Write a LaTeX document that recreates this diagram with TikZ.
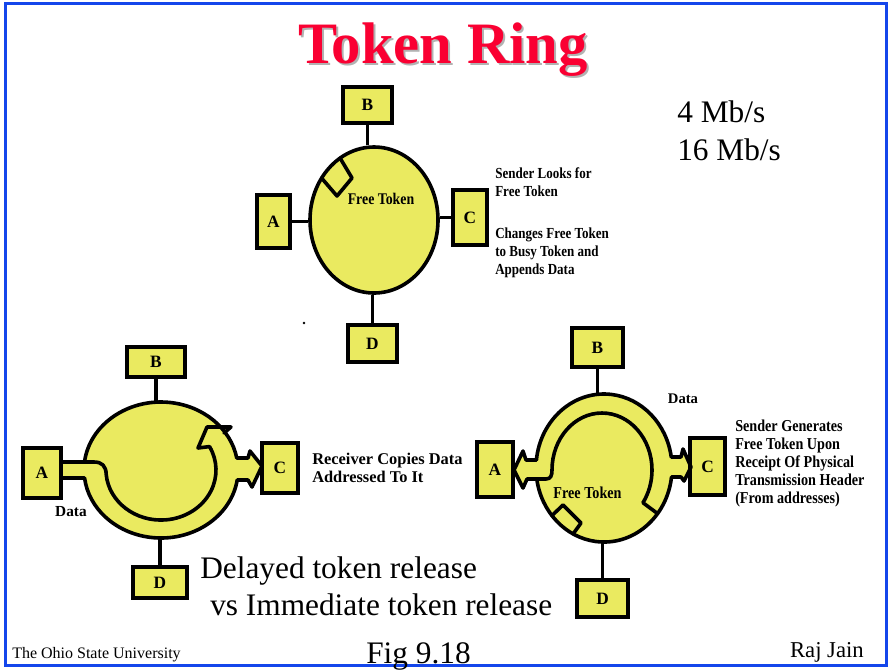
\documentclass[tikz,border=0pt]{standalone}
\usepackage{fontspec}
\setmainfont{Liberation Serif}
\newfontface\notefont{Liberation Serif Bold}[FakeStretch=0.85]
\usetikzlibrary{shapes.geometric}
\definecolor{ringyellow}{RGB}{234,234,96}
\definecolor{slideblue}{RGB}{20,70,235}
\definecolor{titlered}{RGB}{250,0,50}
\begin{document}
\begin{tikzpicture}[x=0.75pt,y=-0.75pt,
  stn/.style={draw=black, fill=ringyellow, line width=2.6pt, inner sep=0pt,
    font=\fontsize{13}{13}\selectfont\bfseries},
  wire/.style={line width=2.3pt},
  ringline/.style={line width=2.7pt, line join=round, line cap=round},
  note/.style={font=\notefont\fontsize{11.5}{13.5}\selectfont, align=left, inner sep=0pt, anchor=north west},
  big/.style={font=\fontsize{23.5}{28}\selectfont, inner sep=0pt, anchor=base west},
]
\useasboundingbox (0,0) rectangle (888,669);
% slide frame
\draw[slideblue, line width=2pt] (5.3,3.7) rectangle (886.7,665.5);
% title (with its light shadow)
\node[font=\fontsize{44}{50}\selectfont\bfseries, text=black!30, anchor=base, inner sep=0pt] (titleshadow) at (445,65) {Token Ring};
\node[font=\fontsize{44}{50}\selectfont\bfseries, text=titlered, anchor=base, inner sep=0pt] (title) at (443,63) {Token Ring};
% speeds
\node[big] (s4) at (677,122) {4 Mb/s};
\node[big] (s16) at (677,160) {16 Mb/s};

% ================= top ring =================
\node[ellipse, draw, fill=ringyellow, line width=2.7pt, minimum width=96pt, minimum height=109.5pt, inner sep=0pt] (ring1) at (374,220) {};
\node[stn, minimum width=36.75pt, minimum height=27pt] (B1) at (367.5,105) {B};
\node[stn, minimum width=24.75pt, minimum height=39.75pt] (A1) at (273.5,221.5) {A};
\node[stn, minimum width=25.5pt, minimum height=41.25pt] (C1) at (470,217.5) {C};
\node[stn, minimum width=36.75pt, minimum height=27.75pt] (D1) at (372.5,343.5) {D};
\draw[wire] (B1.south) -- (B1.south |- ring1.north);
\draw[wire] (A1.east) -- (A1.east -| ring1.west);
\draw[wire] (C1.west) -- (C1.west -| ring1.east);
\draw[wire] (D1.north) -- (D1.north |- ring1.south);
\draw[ringline] (321.6,178.1) -- (337,196) -- (352,178) -- (340.1,158.1);
\node[font=\notefont\fontsize{12.2}{14}\selectfont, inner sep=0pt] (ft1) at (381,199) {Free Token};
\node[note] (n1) at (495,167) {Sender Looks for\\Free Token};
\node[note] (n2) at (495,228) {Changes Free Token\\to Busy Token and\\Appends Data};
\fill (304,323) circle[radius=1.3];

% ================= bottom-left ring (delayed release) =================
\coordinate (r2n) at (161,402);
\coordinate (r2s) at (161,538);
\fill[ringyellow] (161,470) ellipse[x radius=77, y radius=68];
\fill[ringyellow] (60,462) rectangle (100,478);
\fill[ringyellow] (234,458) -- (248,458) -- (250,451) -- (262,466) -- (252,487) -- (248,480) -- (234,480) -- cycle;
\fill[ringyellow] (209.6,446.6) -- (198,448) -- (207,427) -- (231,427) -- (224,433) -- cycle;
\node[stn, minimum width=43.5pt, minimum height=22.5pt] (B2) at (156,362) {B};
\node[stn, minimum width=28.5pt, minimum height=37.5pt] (A2) at (42,473) {A};
\node[stn, minimum width=27pt, minimum height=37.5pt] (C2) at (280,468) {C};
\node[stn, minimum width=40.5pt, minimum height=23.25pt] (D2) at (160,582.5) {D};
\draw[wire] (B2.south) -- (B2.south |- r2n);
\draw[wire] (D2.north) -- (D2.north |- r2s);
% outer ring with arrow into C and band bottom line
\draw[ringline] (84.5,462) arc[start angle=186.76, end angle=349.83, x radius=77, y radius=68]
  -- (248,458) -- (250,451) -- (262,466) -- (252,487) -- (248,480) -- (237.2,480)
  arc[start angle=8.46, end angle=173.24, x radius=77, y radius=68] -- (A2.east |- 0,478);
% band top line, inner line and arrowhead
\draw[ringline] (A2.east |- 0,462) -- (94,462) .. controls (102,462) and (106,466) .. (106.2,474.4)
  arc[start angle=175, end angle=-28, x radius=55, y radius=50]
  -- (198,448) -- (207,427) -- (231,427) -- (224,433);
\node[font=\fontsize{11.5}{13}\selectfont\bfseries, inner sep=0pt] (data2) at (71,512) {Data};
\node[font=\fontsize{12.3}{13.3}\selectfont\bfseries, align=left, inner sep=0pt, anchor=north west] (n3) at (312,453) {Receiver Copies Data\\Addressed To It};

% ================= bottom-right ring (immediate release) =================
\coordinate (r3n) at (604,394);
\coordinate (r3s) at (604,542);
\fill[ringyellow] (604,468) ellipse[x radius=68, y radius=74];
\fill[ringyellow] (540,460) -- (526,460) -- (523,451) -- (514,470) -- (523,488) -- (527,479) -- (540,479) -- cycle;
\fill[ringyellow] (668,457) -- (681,457) -- (683,449) -- (691,467) -- (684,481) -- (681,477) -- (668,477) -- cycle;
\node[stn, minimum width=38.25pt, minimum height=29.25pt] (B3) at (597.5,347.5) {B};
\node[stn, minimum width=27pt, minimum height=41.25pt] (A3) at (495,469.5) {A};
\node[stn, minimum width=26.25pt, minimum height=42.75pt] (C3) at (707.5,466.5) {C};
\node[stn, minimum width=38.25pt, minimum height=27.75pt] (D3) at (602.5,598.5) {D};
\draw[wire] (B3.south) -- (B3.south |- r3n);
\draw[wire] (D3.north) -- (D3.north |- r3s);
\draw[ringline] (536.4,460) arc[start angle=186.2, end angle=351.45, x radius=68, y radius=74]
  -- (681,457) -- (683,449) -- (691,467) -- (684,481) -- (681,477) -- (671.5,477)
  arc[start angle=6.98, end angle=171.45, x radius=68, y radius=74];
\draw[ringline] (536.4,460) -- (526,460) -- (523,451) -- (514,470) -- (523,488) -- (527,479) -- (546,479)
  .. controls (551,479) and (552,475) .. (552,470)
  arc[start angle=180, end angle=395, x radius=50, y radius=57] -- (657.6,513.6);
\draw[ringline] (551.9,515.6) -- (563,505) -- (581,523) -- (573.1,533.9);
\node[font=\fontsize{11}{13}\selectfont\bfseries, inner sep=0pt] (data3) at (683,399) {Data};
\node[font=\notefont\fontsize{12.5}{14}\selectfont, inner sep=0pt] (ft3) at (587.5,492.5) {Free Token};
\node[note, font=\notefont\fontsize{12.5}{13.5}\selectfont] (n4) at (735,420) {Sender Generates\\Free Token Upon\\Receipt Of Physical\\Transmission Header\\(From addresses)};

% ================= captions =================
\node[big] (cap1) at (200,578) {Delayed token release};
\node[big] (cap2) at (210,615) {vs Immediate token release};
\node[font=\fontsize{12}{14}\selectfont, inner sep=0pt, anchor=base west] (osu) at (12,658) {The Ohio State University};
\node[font=\fontsize{23.5}{28}\selectfont, inner sep=0pt, anchor=base west] (fig) at (366,663) {Fig 9.18};
\node[font=\fontsize{17}{20}\selectfont, inner sep=0pt, anchor=base east] (raj) at (864,657) {Raj Jain};
\end{tikzpicture}
\end{document}
